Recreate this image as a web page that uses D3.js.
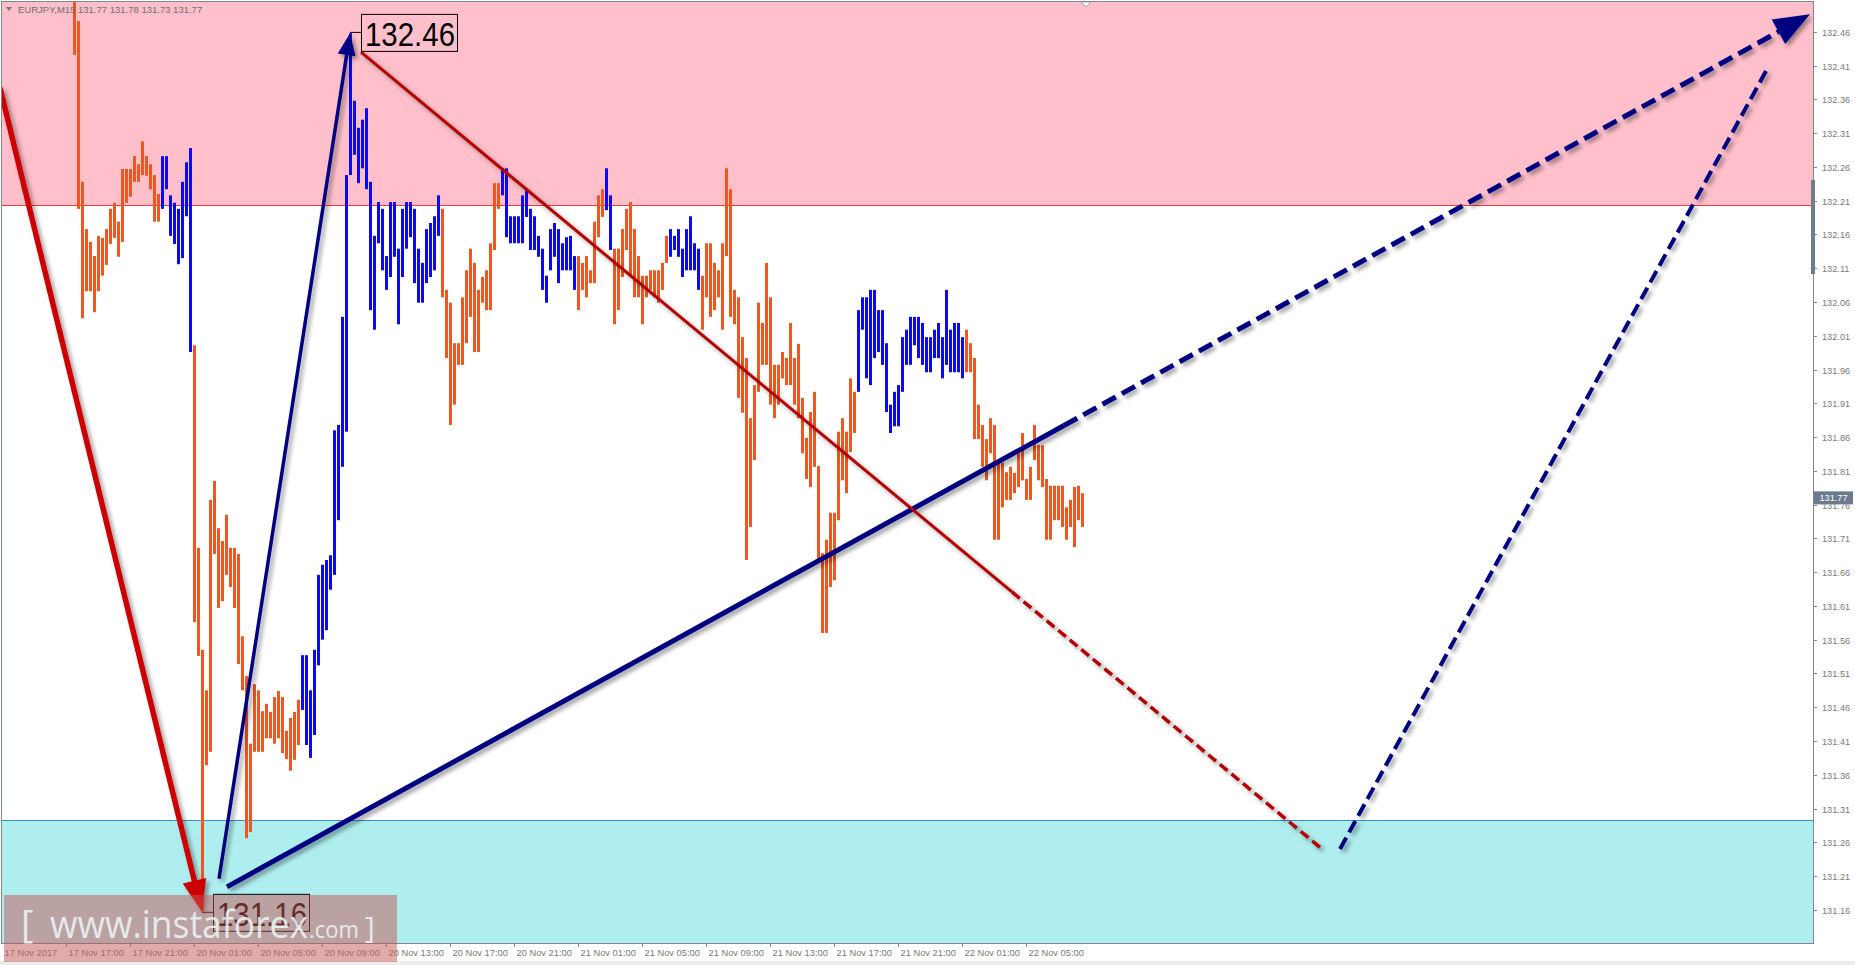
<!DOCTYPE html>
<html><head><meta charset="utf-8">
<script src="https://cdn.jsdelivr.net/npm/d3@7"></script>
<style>html,body{margin:0;padding:0;background:#fff;overflow:hidden}</style>
</head><body><svg id="c" width="1855" height="965"></svg>
<script>
// ---------------- DATA ----------------
const symbolHeader = "EURJPY,M15";
const headerValues = ["131.77", "131.78", "131.73", "131.77"];
const firstBarIndex = 18; // bar index (0 = 17 Nov 13:00) of the first bar visible in the window
const barHigh = [
132.52,132.476,132.238,132.168,132.149,132.128,132.158,132.155,132.168,132.198,
132.207,132.179,132.257,132.257,132.257,132.276,132.264,132.298,132.276,132.264,
132.248,132.220,132.276,132.276,132.218,132.207,132.198,132.238,132.267,132.288,
131.996,131.696,131.545,131.485,131.767,131.795,131.725,131.706,131.745,131.696,
131.696,131.687,131.565,131.506,131.406,131.494,131.485,131.454,131.465,131.453,
131.475,131.484,131.475,131.425,131.444,131.453,131.471,131.537,131.537,131.485,
131.545,131.656,131.671,131.678,131.685,131.870,131.878,132.038,132.248,132.458,
132.358,132.318,132.330,132.347,132.238,132.158,132.208,132.198,132.128,132.208,
132.208,132.139,132.198,132.208,132.208,132.198,132.139,132.118,132.168,132.177,
132.187,132.218,132.198,132.078,132.059,131.999,131.999,132.067,132.107,132.139,
132.118,132.078,132.097,132.107,132.147,132.236,132.236,132.258,132.258,132.187,
132.187,132.187,132.218,132.227,132.198,132.187,132.158,132.139,132.099,132.168,
132.177,132.168,132.147,132.156,132.158,132.128,132.128,132.118,132.128,132.107,
132.179,132.218,132.227,132.258,132.218,132.139,132.139,132.168,132.198,132.208,
132.168,132.128,132.099,132.099,132.107,132.107,132.107,132.118,132.158,132.168,
132.158,132.168,132.139,132.168,132.187,132.147,132.139,132.099,132.147,132.147,
132.118,132.107,132.147,132.258,132.227,132.078,132.067,132.008,131.977,131.888,
131.937,132.059,132.029,132.118,132.067,131.967,131.967,131.986,131.977,132.029,
131.977,131.998,131.918,131.859,131.897,131.927,131.817,131.688,131.708,131.748,
131.748,131.868,131.888,131.868,131.947,131.927,132.048,132.067,132.067,132.078,
132.078,132.048,132.048,131.999,131.908,131.927,131.937,132.008,132.019,132.038,
132.038,132.038,132.029,132.008,132.008,132.019,132.029,132.008,132.078,132.019,
132.029,132.029,132.008,132.019,131.999,131.977,131.908,131.878,131.857,131.888,
131.878,131.822,131.822,131.808,131.816,131.807,131.836,131.866,131.798,131.816,
131.878,131.848,131.848,131.798,131.788,131.788,131.788,131.788,131.756,131.767,
131.786,131.788,131.777];
const barLow = [
132.426,132.198,132.036,132.076,132.076,132.045,132.076,132.099,132.115,132.146,
132.155,132.127,132.149,132.207,132.216,132.238,132.238,132.248,132.247,132.227,
132.179,132.179,132.198,132.227,132.158,132.146,132.116,132.125,132.187,131.986,
131.586,131.536,131.157,131.374,131.394,131.687,131.607,131.617,131.656,131.638,
131.607,131.524,131.485,131.266,131.275,131.394,131.394,131.394,131.414,131.414,
131.406,131.414,131.392,131.383,131.366,131.382,131.404,131.456,131.404,131.385,
131.419,131.522,131.560,131.574,131.634,131.656,131.737,131.816,131.868,132.248,
132.278,132.236,132.258,132.227,132.048,132.019,132.147,132.107,132.078,132.097,
132.127,132.027,132.097,132.139,132.156,132.088,132.059,132.059,132.088,132.097,
132.107,132.158,132.067,131.977,131.878,131.908,131.967,131.967,131.999,132.038,
131.986,131.986,132.059,132.048,132.048,132.137,132.198,132.218,132.156,132.147,
132.147,132.147,132.147,132.186,132.137,132.137,132.127,132.078,132.059,132.107,
132.127,132.088,132.107,132.107,132.107,132.078,132.048,132.078,132.067,132.088,
132.088,132.156,132.186,132.196,132.137,132.027,132.048,132.097,132.137,132.097,
132.067,132.067,132.027,132.067,132.078,132.067,132.059,132.078,132.118,132.127,
132.137,132.127,132.097,132.107,132.107,132.107,132.078,132.019,132.067,132.038,
132.048,132.067,132.019,132.128,132.038,132.027,131.918,131.896,131.678,131.727,
131.826,131.927,131.967,131.967,131.908,131.888,131.908,131.947,131.937,131.937,
131.908,131.888,131.836,131.798,131.786,131.816,131.678,131.570,131.570,131.638,
131.648,131.737,131.796,131.777,131.838,131.866,131.927,132.019,131.947,131.937,
131.977,131.986,131.967,131.897,131.866,131.876,131.876,131.927,131.967,131.967,
131.996,131.977,131.967,131.956,131.956,131.977,131.977,131.947,131.967,131.956,
131.956,131.956,131.947,131.956,131.956,131.857,131.857,131.816,131.796,131.836,
131.708,131.708,131.756,131.767,131.767,131.777,131.786,131.796,131.767,131.767,
131.826,131.796,131.786,131.708,131.708,131.737,131.737,131.727,131.708,131.727,
131.697,131.737,131.727];
// wave colouring: segment start bar index and direction
const segmentStart = [18, 40, 48, 75, 110, 125, 144, 151, 153, 167, 175, 214, 241];
const segmentDir   = ["down","up","down","up","down","up","down","up","down","up","down","up","down"];

const timeLabels = ["17 Nov 2017","17 Nov 17:00","17 Nov 21:00","20 Nov 01:00","20 Nov 05:00","20 Nov 09:00",
  "20 Nov 13:00","20 Nov 17:00","20 Nov 21:00","21 Nov 01:00","21 Nov 05:00","21 Nov 09:00","21 Nov 13:00",
  "21 Nov 17:00","21 Nov 21:00","22 Nov 01:00","22 Nov 05:00"];
const timeLabelIndex = [0,16,32,48,64,80,96,112,128,144,160,176,192,208,224,240,256];
const priceTicks = ["132.46","132.41","132.36","132.31","132.26","132.21","132.16","132.11","132.06","132.01",
  "131.96","131.91","131.86","131.81","131.76","131.71","131.66","131.61","131.56","131.51","131.46","131.41",
  "131.36","131.31","131.26","131.21","131.16"];
const lastPrice = 131.77;
const resistanceZone = [132.203, 132.55];
const supportZone = [131.05, 131.293];
const highMark = {i: 87, p: 132.46, text: "132.46"};
const lowMark = {i: 50, p: 131.157, text: "131.16"};
// wave annotations in (bar index, price)
const waveDown = [[-0.5, 132.377], [50, 131.157]];
const waveUp = [[54.25, 131.206], [87, 132.458]];
const trendUp = [[56.25, 131.194], [452, 132.486]];
const trendUpSolidTo = 265.5;
const forecastDown = [[89.75, 132.430], [330, 131.250]];
const forecastDownSolidTo = 252.5;
const forecastUp = [[334.5, 131.250], [441, 132.402]];
const watermark = ["[", "www.instaforex", ".com", "]"];

// ---------------- DRAW ----------------
const svg = d3.select("#c");
const plot = {x0: 2, x1: 1813, y0: 2, y1: 943};
const y = d3.scaleLinear().domain([131.16, 132.46]).range([909.8, 31.9]);
const x = d3.scaleLinear().domain([0, 1]).range([2, 6]);

const defs = svg.append("defs");
defs.append("clipPath").attr("id", "pc").append("rect")
  .attr("x", plot.x0).attr("y", plot.y0).attr("width", plot.x1 - plot.x0).attr("height", plot.y1 - plot.y0);
const f = defs.append("filter").attr("id", "sh").attr("filterUnits", "userSpaceOnUse")
  .attr("x", 0).attr("y", 0).attr("width", 1855).attr("height", 965);
f.append("feDropShadow").attr("dx", 3).attr("dy", 3).attr("stdDeviation", 2)
  .attr("flood-color", "#000").attr("flood-opacity", 0.38);

const g = svg.append("g").attr("clip-path", "url(#pc)");

// zones
g.append("rect").attr("x", plot.x0).attr("width", plot.x1 - plot.x0)
  .attr("y", y(resistanceZone[1])).attr("height", y(resistanceZone[0]) - y(resistanceZone[1]))
  .attr("fill", "#ffc0cb");
g.append("line").attr("x1", plot.x0).attr("x2", plot.x1)
  .attr("y1", Math.round(y(resistanceZone[0])) + 0.5).attr("y2", Math.round(y(resistanceZone[0])) + 0.5)
  .attr("stroke", "#f03c3c").attr("stroke-width", 1);
g.append("rect").attr("x", plot.x0).attr("width", plot.x1 - plot.x0)
  .attr("y", y(supportZone[1])).attr("height", y(supportZone[0]) - y(supportZone[1]))
  .attr("fill", "#afeeee");
g.append("line").attr("x1", plot.x0).attr("x2", plot.x1)
  .attr("y1", Math.round(y(supportZone[1])) + 0.5).attr("y2", Math.round(y(supportZone[1])) + 0.5)
  .attr("stroke", "#3c8cc8").attr("stroke-width", 1);

// bars
const bars = barHigh.map((h, k) => {
  const i = firstBarIndex + k;
  let s = 0;
  for (let j = 0; j < segmentStart.length; j++) if (i >= segmentStart[j]) s = j;
  return {i, h, l: barLow[k], dir: segmentDir[s]};
});
g.append("g").selectAll("rect").data(bars).join("rect")
  .attr("x", d => x(d.i) - 1).attr("width", 3)
  .attr("y", d => y(d.h)).attr("height", d => Math.max(1, y(d.l) - y(d.h)))
  .attr("fill", d => d.dir === "up" ? "#0a0af5" : "#f0561e");

// helpers
const P = d => [x(d[0]), y(d[1])];
function lerp(a, b, t) { return [a[0] + (b[0] - a[0]) * t, a[1] + (b[1] - a[1]) * t]; }
function head(tip, from, len, hw, color, parent) {
  const dx = tip[0] - from[0], dy = tip[1] - from[1], L = Math.hypot(dx, dy);
  const ux = dx / L, uy = dy / L;
  const bx = tip[0] - ux * len, by = tip[1] - uy * len;
  parent.append("polygon").attr("points",
    [[tip[0], tip[1]], [bx - uy * hw, by + ux * hw], [bx + uy * hw, by - ux * hw]].map(p => p.join(",")).join(" "))
    .attr("fill", color);
  return [bx + ux * 2, by + uy * 2];
}
const ann = g.append("g").attr("filter", "url(#sh)");

// red thick arrow (down wave)
{
  const a = P(waveDown[0]), b = P(waveDown[1]);
  const gg = ann.append("g");
  const base = head(b, a, 32, 12, "#cc0000", gg);
  gg.insert("line", "polygon").attr("x1", a[0]).attr("y1", a[1]).attr("x2", base[0]).attr("y2", base[1])
    .attr("stroke", "#cc0000").attr("stroke-width", 5.5);
}
// navy thin arrow (up wave)
{
  const a = P(waveUp[0]), b = P(waveUp[1]);
  const gg = ann.append("g");
  const base = head(b, a, 22, 9, "#000080", gg);
  gg.insert("line", "polygon").attr("x1", a[0]).attr("y1", a[1]).attr("x2", base[0]).attr("y2", base[1])
    .attr("stroke", "#000080").attr("stroke-width", 3.5);
}
// navy thick trend line + dashed continuation
{
  const a = P(trendUp[0]), b = P(trendUp[1]);
  const t = (trendUpSolidTo - trendUp[0][0]) / (trendUp[1][0] - trendUp[0][0]);
  const m = lerp(a, b, t);
  const gg = ann.append("g");
  gg.append("line").attr("x1", a[0]).attr("y1", a[1]).attr("x2", m[0]).attr("y2", m[1])
    .attr("stroke", "#000080").attr("stroke-width", 5);
  const base = head(b, a, 36, 14, "#000080", gg);
  gg.append("line").attr("x1", m[0]).attr("y1", m[1]).attr("x2", base[0]).attr("y2", base[1])
    .attr("stroke", "#000080").attr("stroke-width", 5).attr("stroke-dasharray", "15,7");
}
// red thin line + dashed continuation
{
  const a = P(forecastDown[0]), b = P(forecastDown[1]);
  const t = (forecastDownSolidTo - forecastDown[0][0]) / (forecastDown[1][0] - forecastDown[0][0]);
  const m = lerp(a, b, t);
  ann.append("line").attr("x1", a[0]).attr("y1", a[1]).attr("x2", m[0]).attr("y2", m[1])
    .attr("stroke", "#b40000").attr("stroke-width", 3);
  ann.append("line").attr("x1", m[0]).attr("y1", m[1]).attr("x2", b[0]).attr("y2", b[1])
    .attr("stroke", "#b40000").attr("stroke-width", 3.5).attr("stroke-dasharray", "10,5");
}
// navy dashed forecast up
{
  const a = P(forecastUp[0]), b = P(forecastUp[1]);
  ann.append("line").attr("x1", a[0]).attr("y1", a[1]).attr("x2", b[0]).attr("y2", b[1])
    .attr("stroke", "#000080").attr("stroke-width", 4).attr("stroke-dasharray", "13,6");
}

// price labels for extremes
function extremeLabel(m) {
  const px = x(m.i), py = y(m.p);
  const lg = g.append("g");
  lg.append("line").attr("x1", px).attr("x2", px + 11).attr("y1", py + 0.5).attr("y2", py + 0.5)
    .attr("stroke", "#000").attr("stroke-width", 1);
  lg.append("rect").attr("x", px + 11.5).attr("y", py - 17.5).attr("width", 96).attr("height", 37)
    .attr("fill", "none").attr("stroke", "#000").attr("stroke-width", 1);
  lg.append("text").attr("x", px + 15).attr("y", py + 14).text(m.text)
    .attr("font-family", "Liberation Sans, Arial, sans-serif").attr("font-size", 34)
    .attr("textLength", 90).attr("lengthAdjust", "spacingAndGlyphs").attr("fill", "#000");
}
extremeLabel(highMark);
extremeLabel(lowMark);

// small shift marker at top
svg.append("polygon").attr("points", "1081,2 1091,2 1086,7").attr("fill", "#fff").attr("stroke", "#aaa");

// frame
svg.append("rect").attr("x", plot.x0 - 0.5).attr("y", plot.y0 - 0.5)
  .attr("width", plot.x1 - plot.x0 + 1).attr("height", plot.y1 - plot.y0 + 1)
  .attr("fill", "none").attr("stroke", "#7f8791").attr("stroke-width", 1);
svg.append("rect").attr("x", plot.x1 - 2).attr("y", 180).attr("width", 4).attr("height", 94).attr("fill", "#6f7c8c");

// header
svg.append("polygon").attr("points", "6,7 12,7 9,11").attr("fill", "#777");
svg.append("text").attr("x", 18).attr("y", 13)
  .text(symbolHeader + "  " + headerValues.join(" "))
  .attr("font-family", "Liberation Sans, Arial, sans-serif").attr("font-size", 9.5).attr("fill", "#6e6e6e");

// y axis
const ya = svg.append("g");
priceTicks.forEach(t => {
  const py = Math.round(y(+t)) + 0.5;
  ya.append("line").attr("x1", plot.x1).attr("x2", plot.x1 + 4).attr("y1", py).attr("y2", py)
    .attr("stroke", "#7f8791");
  ya.append("text").attr("x", plot.x1 + 9).attr("y", py + 3.5).text(t)
    .attr("font-family", "Liberation Sans, Arial, sans-serif").attr("font-size", 9.2).attr("fill", "#7a7a7a");
});
// current price box
{
  const py = y(lastPrice);
  ya.append("rect").attr("x", plot.x1 + 1).attr("y", py - 6.5).attr("width", 39).attr("height", 13).attr("fill", "#6b7a8c");
  ya.append("text").attr("x", plot.x1 + 20.5).attr("y", py + 3.5).attr("text-anchor", "middle")
    .text(lastPrice.toFixed(2)).attr("font-family", "Liberation Sans, Arial, sans-serif")
    .attr("font-size", 9.2).attr("fill", "#fff");
}

// x axis
const xa = svg.append("g");
timeLabels.forEach((t, k) => {
  const px = Math.round(x(timeLabelIndex[k])) + 0.5;
  if (k > 0) xa.append("line").attr("x1", px).attr("x2", px).attr("y1", plot.y1).attr("y2", plot.y1 + 4)
    .attr("stroke", "#7f8791");
  xa.append("text").attr("x", px + 2).attr("y", 956).text(t)
    .attr("font-family", "Liberation Sans, Arial, sans-serif").attr("font-size", 9.3).attr("fill", "#7a7a7a");
});
svg.append("rect").attr("x", 0).attr("y", 961).attr("width", 1855).attr("height", 4).attr("fill", "#ececec");

// watermark
const wm = svg.append("g");
wm.append("rect").attr("x", 4).attr("y", 895).attr("width", 393).attr("height", 67)
  .attr("fill", "rgb(200,85,85)").attr("fill-opacity", 0.5);
const wf = "Open Sans, Liberation Sans, sans-serif";
wm.append("text").attr("x", 21).attr("y", 938).text(watermark[0]).attr("font-family", wf)
  .attr("font-size", 38).attr("fill", "#eef8f8").attr("fill-opacity", 0.85);
wm.append("text").attr("x", 50).attr("y", 938).text(watermark[1]).attr("font-family", wf)
  .attr("font-size", 38).attr("textLength", 258).attr("lengthAdjust", "spacingAndGlyphs")
  .attr("fill", "#eef8f8").attr("fill-opacity", 0.85);
wm.append("text").attr("x", 309).attr("y", 938).text(watermark[2]).attr("font-family", wf)
  .attr("font-size", 24).attr("textLength", 50).attr("lengthAdjust", "spacingAndGlyphs")
  .attr("fill", "#eef8f8").attr("fill-opacity", 0.85);
wm.append("text").attr("x", 365).attr("y", 938).text(watermark[3]).attr("font-family", wf)
  .attr("font-size", 30).attr("fill", "#eef8f8").attr("fill-opacity", 0.85);
</script></body></html>
